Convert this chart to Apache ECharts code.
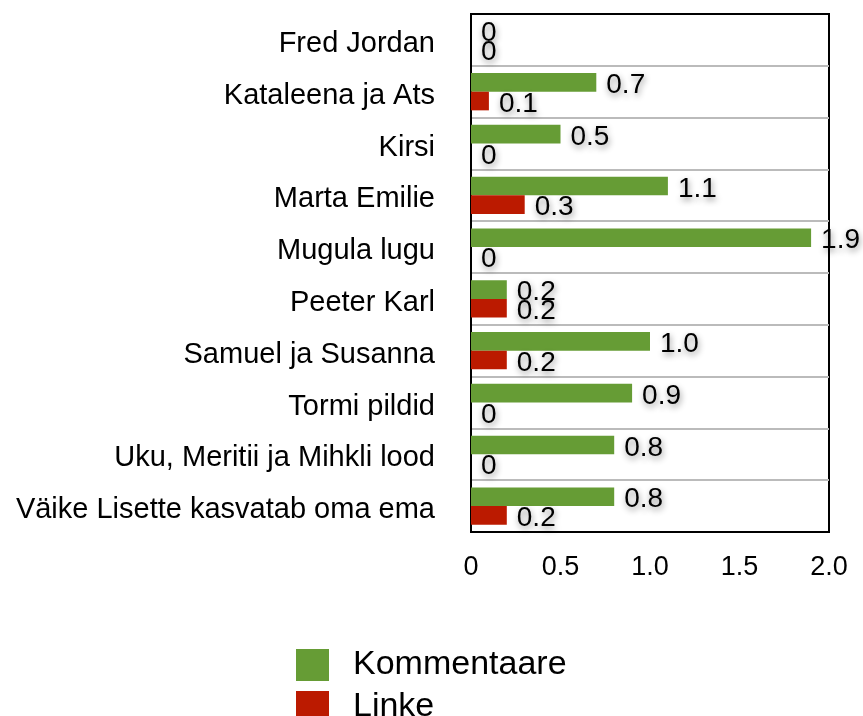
<!DOCTYPE html>
<html>
<head>
<meta charset="utf-8">
<script src="https://cdn.jsdelivr.net/npm/echarts@6/dist/echarts.min.js"></script>
<style>
  html, body { margin: 0; padding: 0; background: #fff; }
  #main { width: 863px; height: 716px; }
</style>
</head>
<body>
<div id="main"></div>
<script>
const categories = ['Fred Jordan', 'Kataleena ja Ats', 'Kirsi', 'Marta Emilie', 'Mugula lugu',
  'Peeter Karl', 'Samuel ja Susanna', 'Tormi pildid', 'Uku, Meritii ja Mihkli lood', 'Väike Lisette kasvatab oma ema'];
const kommentaare = [0, 0.7, 0.5, 1.1, 1.9, 0.2, 1.0, 0.9, 0.8, 0.8];
const linke = [0, 0.1, 0, 0.3, 0, 0.2, 0.2, 0, 0, 0.2];
const xTicks = [0, 0.5, 1.0, 1.5, 2.0];

const fmt = v => (v === 0 ? '0' : v.toFixed(1));

const labelStyle = {
  show: true,
  position: 'right',
  distance: 10,
  offset: [0, 3],
  fontFamily: 'Liberation Sans',
  fontSize: 28,
  color: '#000',
  textShadowColor: 'rgba(0,0,0,0.45)',
  textShadowBlur: 6,
  textShadowOffsetX: 1,
  textShadowOffsetY: 3,
  formatter: p => fmt(p.value)
};

const myChart = echarts.init(document.getElementById('main'));
const option = {
  animation: false,
  textStyle: { fontFamily: 'Liberation Sans' },
  grid: {
    left: 471, top: 14, width: 358, height: 518,
    show: true, borderColor: '#000', borderWidth: 2, backgroundColor: 'transparent'
  },
  xAxis: [
    {
      type: 'value',
      min: xTicks[0],
      max: xTicks[xTicks.length - 1],
      interval: 0.5,
      splitLine: { show: false },
      axisLine: { show: true, lineStyle: { color: '#000', width: 2 } },
      axisTick: { show: false },
      axisLabel: {
        margin: 22, fontSize: 27, color: '#000', fontFamily: 'Liberation Sans',
        formatter: v => fmt(v)
      }
    },
    {
      // top border line only
      type: 'value',
      position: 'top',
      min: xTicks[0],
      max: xTicks[xTicks.length - 1],
      interval: 0.5,
      splitLine: { show: false },
      axisLine: { show: true, lineStyle: { color: '#000', width: 2 } },
      axisTick: { show: false },
      axisLabel: { show: false },
      z: 10
    }
  ],
  yAxis: {
    type: 'category',
    data: categories,
    inverse: true,
    axisLine: { show: true, lineStyle: { color: '#000', width: 2 } },
    axisTick: { show: false },
    splitLine: { show: true, lineStyle: { color: '#bbbbbb', width: 2 } },
    axisLabel: {
      margin: 36, color: '#000',
      formatter: v => '{c|' + v + '}',
      rich: {
        c: { fontSize: 29, color: '#000', fontFamily: 'Liberation Sans', padding: [8, 0, 0, 0] }
      }
    }
  },
  legend: {
    orient: 'vertical',
    left: 296,
    top: 648,
    height: 120,
    padding: 0,
    itemWidth: 33,
    itemHeight: 32,
    itemGap: 8,
    icon: 'rect',
    textStyle: { fontSize: 34, color: '#000', fontFamily: 'Liberation Sans', padding: [0, 0, 0, 19] },
    data: ['Kommentaare', 'Linke']
  },
  series: [
    {
      name: 'Kommentaare', type: 'bar', data: kommentaare,
      itemStyle: { color: '#669c35' },
      barGap: '0%', barCategoryGap: '28%',
      label: labelStyle
    },
    {
      name: 'Linke', type: 'bar', data: linke,
      itemStyle: { color: '#bb1a00' },
      barGap: '0%', barCategoryGap: '28%',
      label: labelStyle
    }
  ]
};
myChart.setOption(option);
</script>
</body>
</html>
